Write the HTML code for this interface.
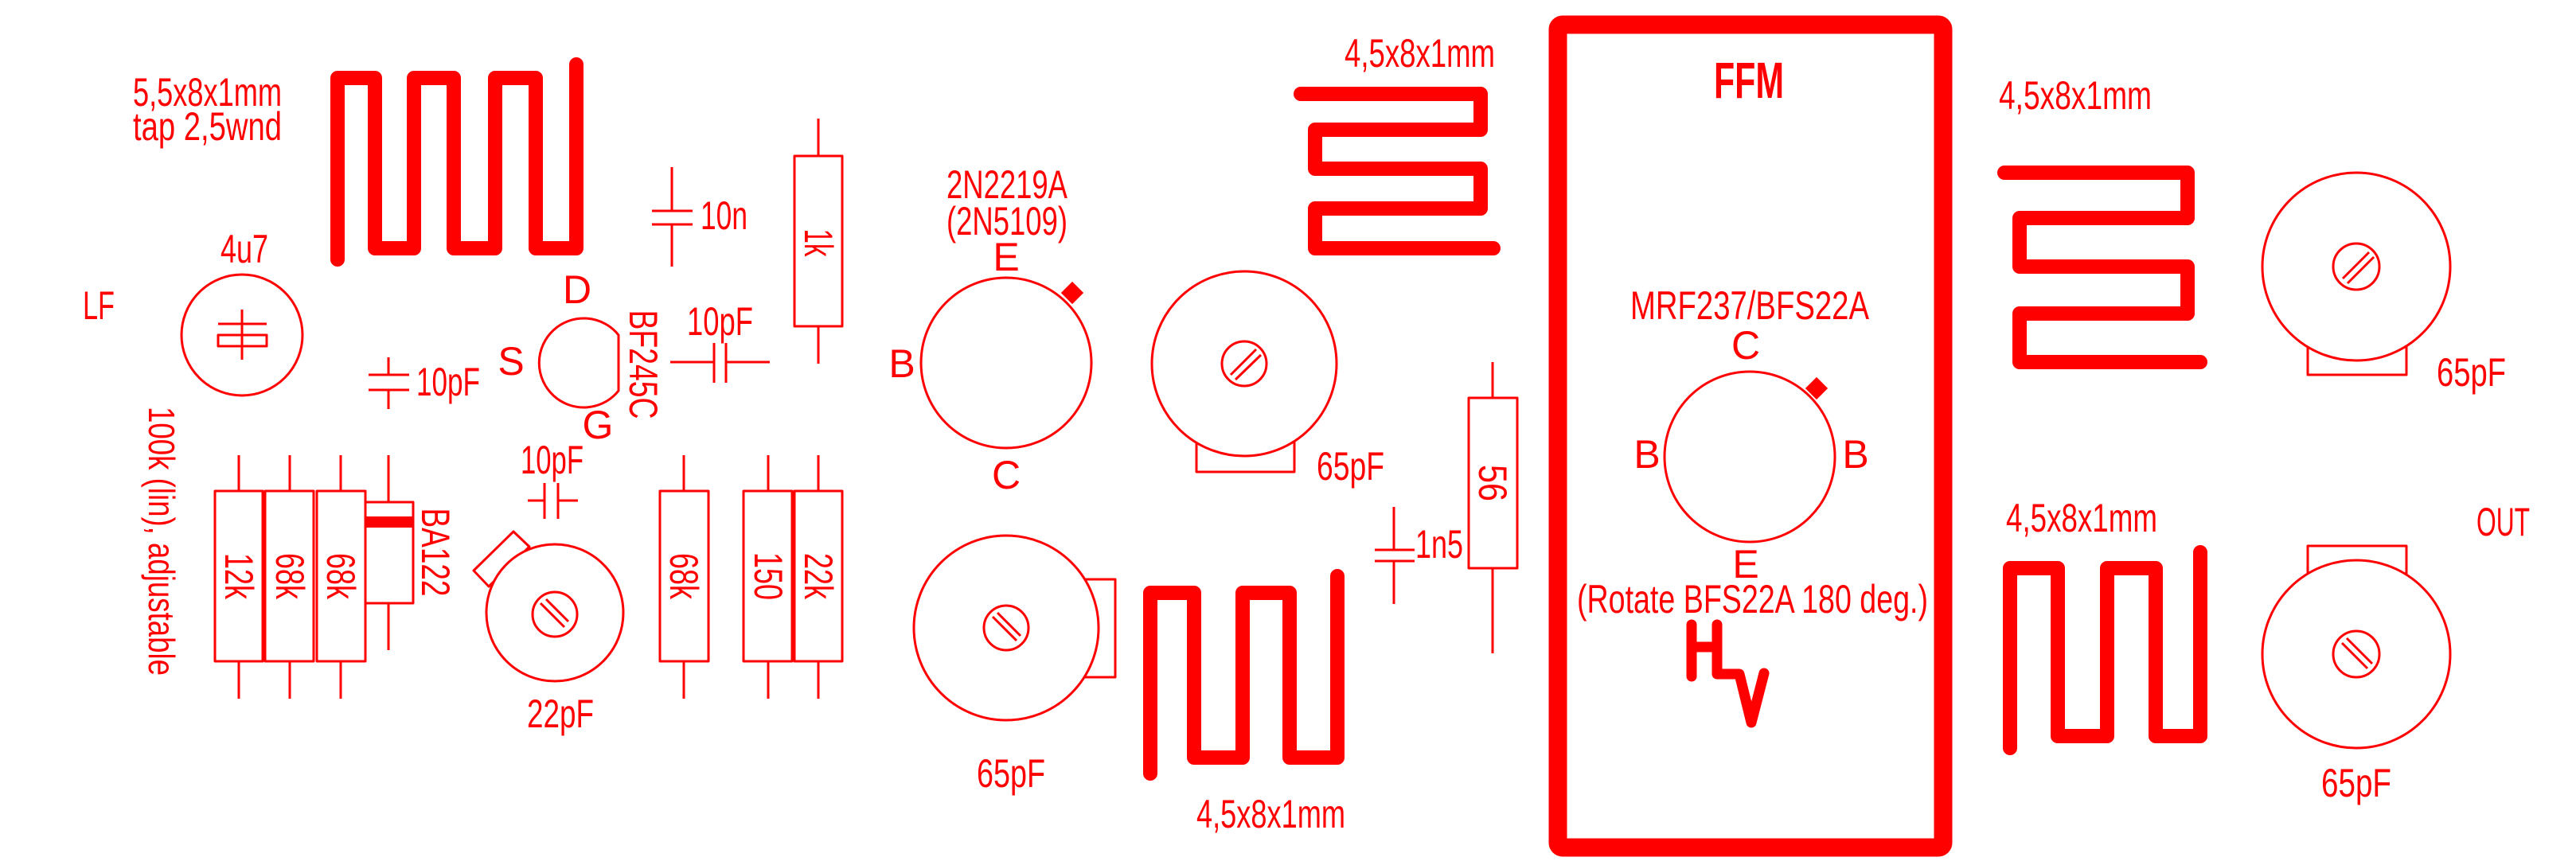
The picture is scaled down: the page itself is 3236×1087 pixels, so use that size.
<!DOCTYPE html>
<html><head><meta charset="utf-8"><style>
html,body{margin:0;padding:0;background:#fff;}
svg{display:block;}
text{font-family:"Liberation Sans",sans-serif;fill:#ff0000;font-size:50px;}
</style></head><body>
<svg width="3236" height="1087" viewBox="0 0 3236 1087" xmlns="http://www.w3.org/2000/svg">
<g fill="none" stroke="#ff0000" stroke-linejoin="round">
<g stroke-width="18" stroke-linecap="round">
<polyline points="424,326 424,98 471,98 471,312 520,312 520,98 570,98 570,312 622,312 622,98 673,98 673,312 724,312 724,81"/>
<polyline points="1634,118 1860,118 1860,163 1652,163 1652,212 1860,212 1860,262 1652,262 1652,312 1876,312"/>
<polyline points="1445,972 1445,745 1500,745 1500,952 1561,952 1561,745 1620,745 1620,952 1680,952 1680,724"/>
<polyline points="2518,217 2748,217 2748,274 2537,274 2537,335 2748,335 2748,394 2537,394 2537,455 2764,455"/>
<polyline points="2525,940 2525,714 2585,714 2585,925 2647,925 2647,714 2708,714 2708,925 2764,925 2764,694"/>
</g>
<rect x="1957" y="31" width="484" height="1034" rx="6" stroke-width="23"/>
<g stroke-width="13" stroke-linecap="round">
<line x1="2125" y1="785" x2="2125" y2="850"/>
<line x1="2125" y1="813" x2="2157" y2="813"/>
<polyline points="2157,785 2157,847 2185,847 2200,908 2216,846"/>
</g>

<g stroke-width="3">
<circle cx="304" cy="421" r="76"/>
<line x1="304" y1="389" x2="304" y2="452"/>
<line x1="274" y1="407" x2="335" y2="407"/>
<rect x="274" y="421" width="61" height="14"/>
<line x1="844" y1="210" x2="844" y2="265"/><line x1="844" y1="282" x2="844" y2="335"/>
<line x1="819" y1="265" x2="870" y2="265"/><line x1="819" y1="282" x2="870" y2="282"/>
<rect x="998" y="196" width="60" height="214"/>
<line x1="1028" y1="149" x2="1028" y2="196"/><line x1="1028" y1="410" x2="1028" y2="457"/>
<path d="M777,421 A56,56 0 1 0 777,491 Z"/>
<line x1="842" y1="455" x2="897" y2="455"/><line x1="912" y1="455" x2="967" y2="455"/>
<line x1="897" y1="431" x2="897" y2="481"/><line x1="912" y1="431" x2="912" y2="481"/>
<line x1="488" y1="449" x2="488" y2="471"/><line x1="488" y1="490" x2="488" y2="514"/>
<line x1="463" y1="471" x2="514" y2="471"/><line x1="463" y1="490" x2="514" y2="490"/>
<rect x="270" y="617" width="60" height="214"/><rect x="333" y="617" width="61" height="214"/><rect x="398" y="617" width="61" height="214"/>
<line x1="300" y1="572" x2="300" y2="617"/><line x1="300" y1="831" x2="300" y2="878"/>
<line x1="364" y1="572" x2="364" y2="617"/><line x1="364" y1="831" x2="364" y2="878"/>
<line x1="428" y1="572" x2="428" y2="617"/><line x1="428" y1="831" x2="428" y2="878"/>
<rect x="459" y="631" width="60" height="127"/>
<line x1="488" y1="572" x2="488" y2="631"/><line x1="488" y1="758" x2="488" y2="817"/>
<line x1="663" y1="629" x2="684" y2="629"/><line x1="701" y1="629" x2="726" y2="629"/>
<line x1="684" y1="607" x2="684" y2="652"/><line x1="701" y1="607" x2="701" y2="652"/>
<polygon points="595,717 645,668 665,687 614,737"/>
<circle cx="697" cy="770" r="86" fill="#fff"/>
<circle cx="697" cy="772" r="28"/>
<line x1="679" y1="758" x2="709" y2="788"/><line x1="686" y1="753" x2="714" y2="781"/>
<rect x="829" y="617" width="61" height="214"/><rect x="934" y="617" width="61" height="214"/><rect x="998" y="617" width="60" height="214"/>
<line x1="859" y1="572" x2="859" y2="617"/><line x1="859" y1="831" x2="859" y2="878"/>
<line x1="965" y1="572" x2="965" y2="617"/><line x1="965" y1="831" x2="965" y2="878"/>
<line x1="1028" y1="572" x2="1028" y2="617"/><line x1="1028" y1="831" x2="1028" y2="878"/>
<circle cx="1264" cy="456" r="107"/>
<rect x="1503" y="540" width="123" height="53"/>
<circle cx="1563" cy="457" r="116" fill="#fff"/>
<circle cx="1563" cy="457" r="28"/>
<line x1="1578" y1="439" x2="1546" y2="471"/><line x1="1584" y1="446" x2="1552" y2="477"/>
<rect x="1350" y="728" width="51" height="123"/>
<circle cx="1264" cy="789" r="116" fill="#fff"/>
<circle cx="1264" cy="789" r="28"/>
<line x1="1247" y1="775" x2="1277" y2="805"/><line x1="1253" y1="770" x2="1282" y2="799"/>
<line x1="1751" y1="637" x2="1751" y2="691"/><line x1="1751" y1="705" x2="1751" y2="759"/>
<line x1="1727" y1="691" x2="1777" y2="691"/><line x1="1727" y1="705" x2="1777" y2="705"/>
<rect x="1845" y="500" width="61" height="214"/>
<line x1="1875" y1="455" x2="1875" y2="500"/><line x1="1875" y1="714" x2="1875" y2="821"/>
<circle cx="2198" cy="574" r="107"/>
<rect x="2899" y="420" width="124" height="51"/>
<circle cx="2960" cy="335" r="118" fill="#fff"/>
<circle cx="2960" cy="335" r="29"/>
<line x1="2976" y1="317" x2="2943" y2="350"/><line x1="2982" y1="323" x2="2949" y2="356"/>
<rect x="2899" y="686" width="124" height="51"/>
<circle cx="2960" cy="822" r="118" fill="#fff"/>
<circle cx="2960" cy="822" r="29"/>
<line x1="2942" y1="808" x2="2974" y2="840"/><line x1="2948" y1="802" x2="2980" y2="834"/>
</g>
</g>
<rect x="459" y="649" width="60" height="14" fill="#ff0000"/>
<rect x="1337" y="358" width="20" height="20" fill="#ff0000" transform="rotate(45 1347 368)"/>
<rect x="2272" y="478" width="20" height="20" fill="#ff0000" transform="rotate(45 2282 488)"/>

<text x="167" y="133" textLength="187" lengthAdjust="spacingAndGlyphs">5,5x8x1mm</text>
<text x="167" y="176" textLength="187" lengthAdjust="spacingAndGlyphs">tap 2,5wnd</text>
<text x="277" y="330" textLength="60" lengthAdjust="spacingAndGlyphs">4u7</text>
<text x="104" y="401" textLength="40" lengthAdjust="spacingAndGlyphs">LF</text>
<text x="880" y="288" textLength="59" lengthAdjust="spacingAndGlyphs">10n</text>
<text x="725" y="381" text-anchor="middle">D</text>
<text x="642" y="471" text-anchor="middle">S</text>
<text x="751" y="551" text-anchor="middle">G</text>
<text x="863" y="421" textLength="83" lengthAdjust="spacingAndGlyphs">10pF</text>
<text x="523" y="497" textLength="80" lengthAdjust="spacingAndGlyphs">10pF</text>
<text x="654" y="595" textLength="79" lengthAdjust="spacingAndGlyphs">10pF</text>
<text x="662" y="914" textLength="84" lengthAdjust="spacingAndGlyphs">22pF</text>
<text x="1189" y="249" textLength="152" lengthAdjust="spacingAndGlyphs">2N2219A</text>
<text x="1189" y="295" textLength="152" lengthAdjust="spacingAndGlyphs">(2N5109)</text>
<text x="1264" y="340" text-anchor="middle">E</text>
<text x="1133" y="474" text-anchor="middle">B</text>
<text x="1264" y="614" text-anchor="middle">C</text>
<text x="1689" y="84" textLength="189" lengthAdjust="spacingAndGlyphs">4,5x8x1mm</text>
<text x="1654" y="603" textLength="85" lengthAdjust="spacingAndGlyphs">65pF</text>
<text x="1227" y="989" textLength="86" lengthAdjust="spacingAndGlyphs">65pF</text>
<text x="1503" y="1040" textLength="187" lengthAdjust="spacingAndGlyphs">4,5x8x1mm</text>
<text x="1778" y="701" textLength="60" lengthAdjust="spacingAndGlyphs">1n5</text>
<text x="2153" y="123" textLength="88" lengthAdjust="spacingAndGlyphs" style="font-size:64px;font-weight:bold">FFM</text>
<text x="2048" y="401" textLength="300" lengthAdjust="spacingAndGlyphs">MRF237/BFS22A</text>
<text x="2193" y="451" text-anchor="middle">C</text>
<text x="2069" y="588" text-anchor="middle">B</text>
<text x="2331" y="588" text-anchor="middle">B</text>
<text x="2193" y="726" text-anchor="middle">E</text>
<text x="1981" y="770" textLength="441" lengthAdjust="spacingAndGlyphs">(Rotate BFS22A 180 deg.)</text>
<text x="2511" y="137" textLength="192" lengthAdjust="spacingAndGlyphs">4,5x8x1mm</text>
<text x="3061" y="485" textLength="87" lengthAdjust="spacingAndGlyphs">65pF</text>
<text x="2520" y="668" textLength="190" lengthAdjust="spacingAndGlyphs">4,5x8x1mm</text>
<text x="3111" y="673" textLength="67" lengthAdjust="spacingAndGlyphs">OUT</text>
<text x="2916" y="1001" textLength="88" lengthAdjust="spacingAndGlyphs">65pF</text>

<g dominant-baseline="central" text-anchor="middle">
<text transform="translate(203,680) rotate(90)" textLength="338" lengthAdjust="spacingAndGlyphs" style="font-size:46px">100k (lin), adjustable</text>
<text transform="translate(300,724) rotate(90)" textLength="58" lengthAdjust="spacingAndGlyphs">12k</text>
<text transform="translate(364,724) rotate(90)" textLength="58" lengthAdjust="spacingAndGlyphs">68k</text>
<text transform="translate(428,724) rotate(90)" textLength="58" lengthAdjust="spacingAndGlyphs">68k</text>
<text transform="translate(547,694) rotate(90)" textLength="111" lengthAdjust="spacingAndGlyphs">BA122</text>
<text transform="translate(808,458) rotate(90)" textLength="137" lengthAdjust="spacingAndGlyphs">BF245C</text>
<text transform="translate(1028,305) rotate(90)" textLength="35" lengthAdjust="spacingAndGlyphs">1k</text>
<text transform="translate(859,724) rotate(90)" textLength="58" lengthAdjust="spacingAndGlyphs">68k</text>
<text transform="translate(965,724) rotate(90)" textLength="60" lengthAdjust="spacingAndGlyphs">150</text>
<text transform="translate(1028,724) rotate(90)" textLength="58" lengthAdjust="spacingAndGlyphs">22k</text>
<text transform="translate(1875,607) rotate(90)" textLength="46" lengthAdjust="spacingAndGlyphs">56</text>
</g>
</svg>
</body></html>
